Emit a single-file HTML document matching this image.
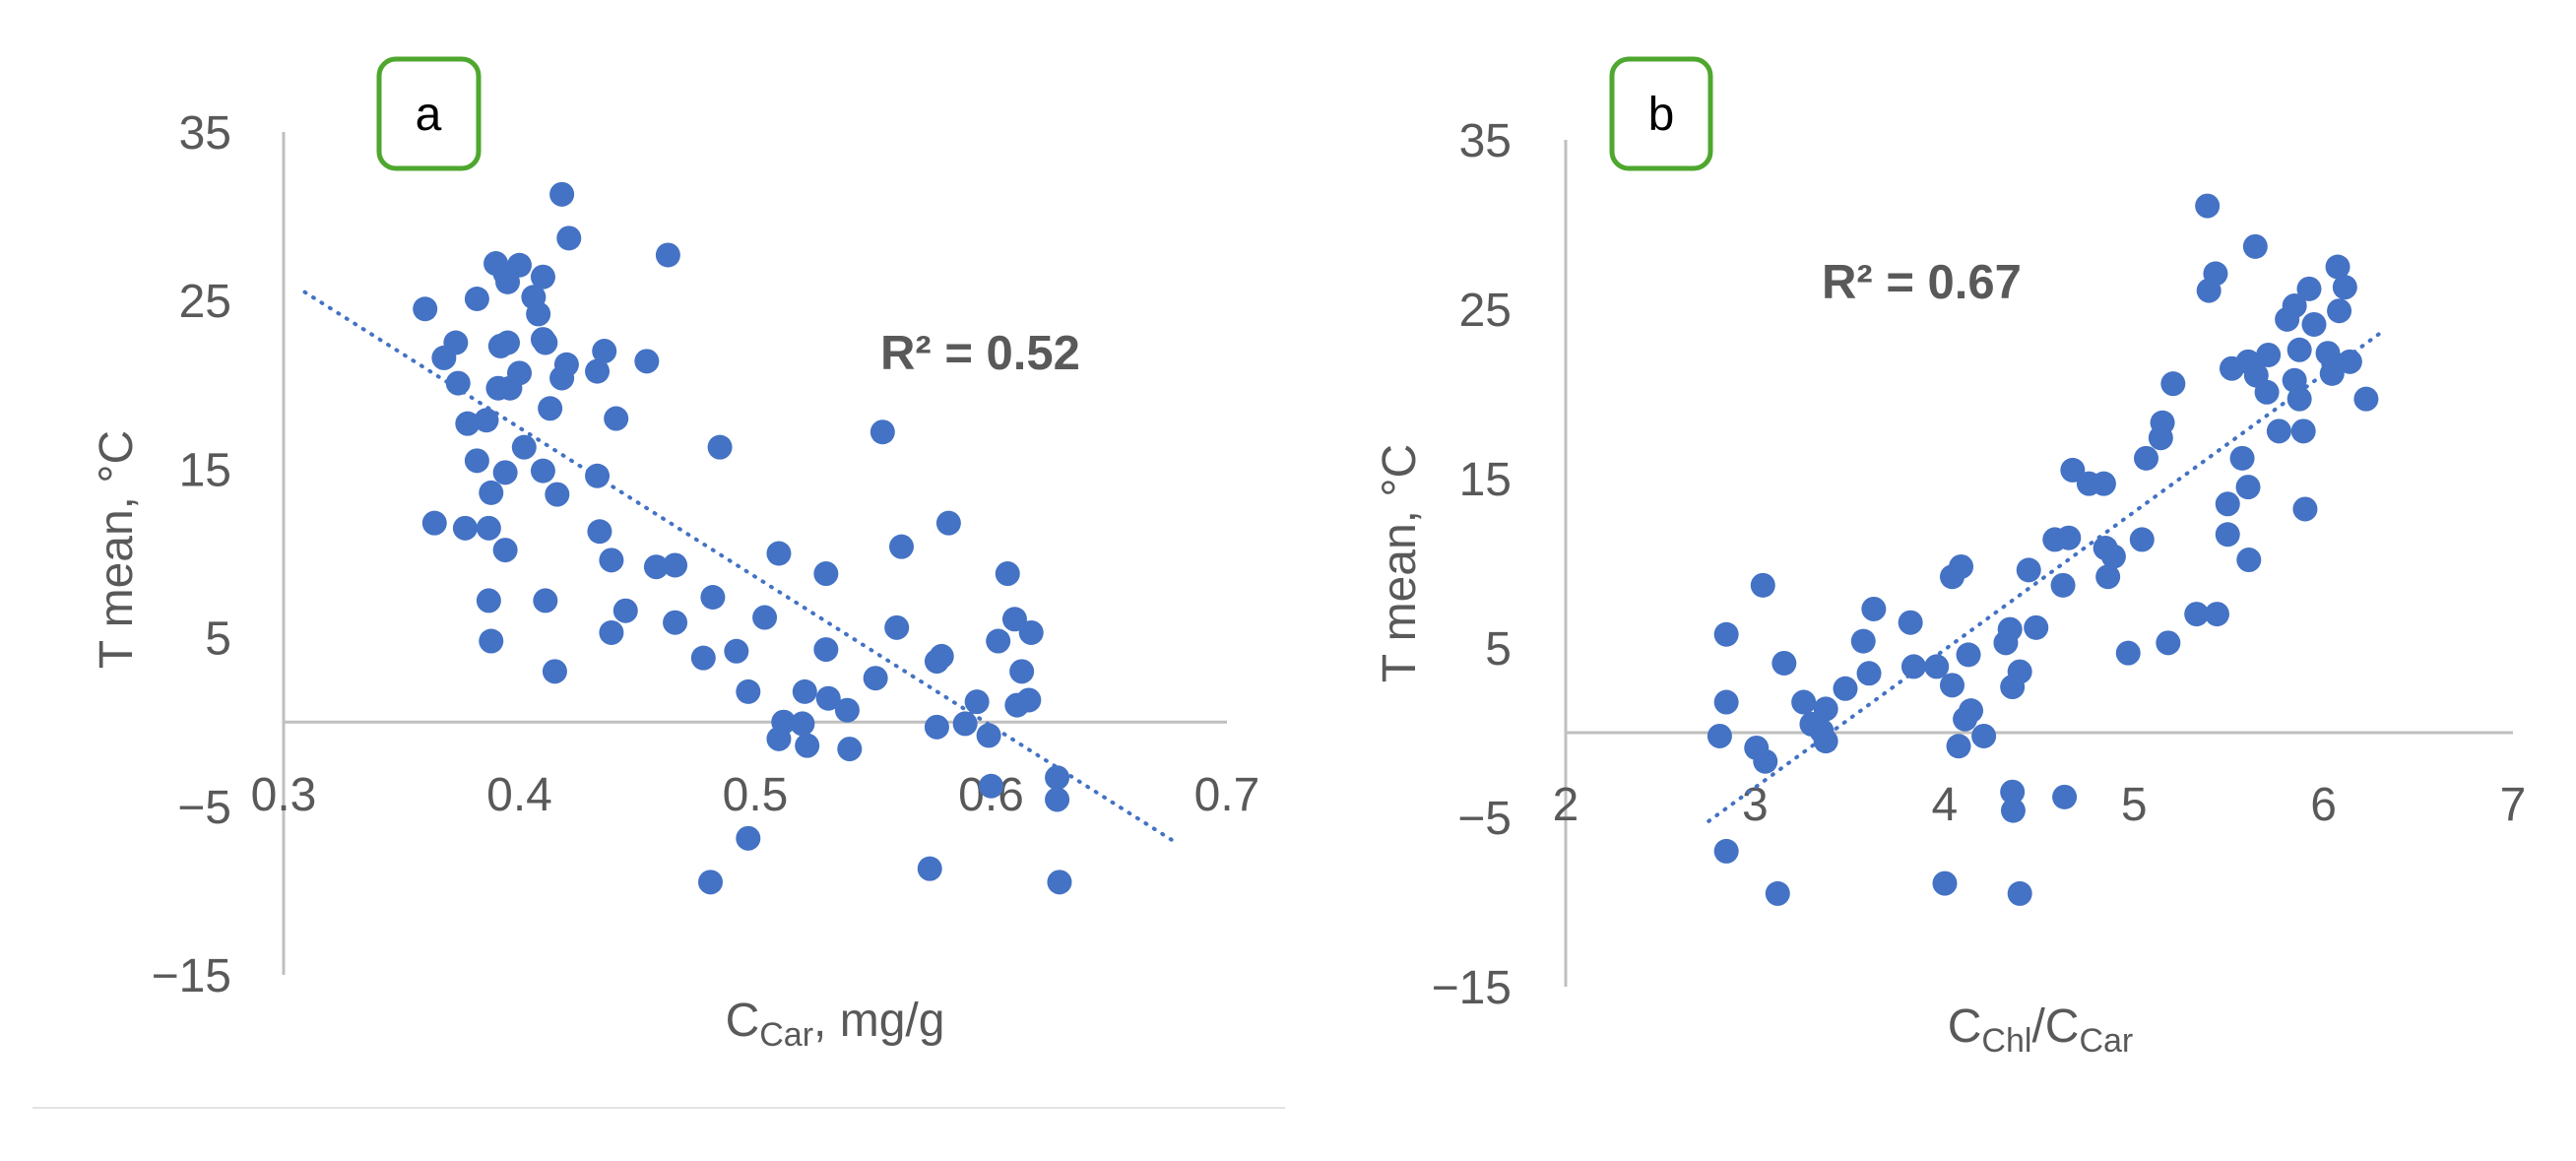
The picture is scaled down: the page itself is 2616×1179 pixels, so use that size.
<!DOCTYPE html>
<html><head><meta charset="utf-8"><style>
html,body{margin:0;padding:0;background:#fff;}
svg{display:block;font-family:"Liberation Sans",sans-serif;}
</style></head><body>
<svg id="fig" width="2616" height="1179" viewBox="0 0 2616 1179" xmlns="http://www.w3.org/2000/svg">
<line x1="33" y1="1125" x2="1305" y2="1125" stroke="#e3e3e3" stroke-width="2"/>
</svg>
<script>
const ns="http://www.w3.org/2000/svg";
const svg=document.getElementById('fig');
// Panel a data
const aX=[0.418,0.421,0.463,0.390,0.400,0.394,0.410,0.395,0.382,0.406,0.360,0.408,0.373,0.392,0.395,0.410,0.411,0.436,0.368,0.420,0.454,0.400,0.433,0.418,0.374,0.391,0.396,0.413,0.441,0.378,0.386,0.554,0.485,0.402,0.382,0.394,0.410,0.433,0.388,0.416,0.364,0.377,0.387,0.582,0.434,0.394,0.562,0.510,0.439,0.458,0.466,0.530,0.607,0.387,0.411,0.482,0.445,0.504,0.610,0.466,0.560,0.439,0.617,0.388,0.603,0.530,0.492,0.579,0.577,0.478,0.415,0.613,0.551,0.497,0.521,0.531,0.539,0.594,0.611,0.616,0.512,0.520,0.577,0.589,0.510,0.522,0.599,0.540,0.628,0.600,0.628,0.497,0.574,0.481,0.629];
const aY=[31.3,28.7,27.7,27.2,27.1,26.6,26.4,26.1,25.1,25.2,24.5,24.2,22.5,22.3,22.5,22.7,22.5,22.0,21.6,21.2,21.4,20.7,20.8,20.4,20.1,19.8,19.8,18.6,18.0,17.7,17.9,17.2,16.3,16.3,15.5,14.8,14.9,14.6,13.6,13.5,11.8,11.5,11.5,11.8,11.3,10.2,10.4,10.0,9.6,9.2,9.3,8.8,8.8,7.2,7.2,7.4,6.6,6.2,6.1,5.9,5.6,5.3,5.3,4.8,4.8,4.3,4.2,3.9,3.6,3.8,3.0,3.0,2.6,1.8,1.8,1.4,0.7,1.2,1.0,1.3,0.0,-0.1,-0.3,-0.1,-1.0,-1.4,-0.8,-1.6,-3.3,-3.8,-4.6,-6.9,-8.7,-9.5,-9.5];
const aXTicks=["0.3","0.4","0.5","0.6","0.7"];
const aYTicks=["35","25","15","5","−5","−15"];
const aTrendRange=[0.309,0.677];
// Panel b data
const bX=[5.387,5.640,5.430,5.395,6.075,6.113,5.924,5.847,6.083,5.808,5.950,5.873,5.709,6.023,5.602,5.516,6.053,6.139,6.045,5.645,5.206,5.847,5.701,5.873,6.225,5.150,5.141,5.765,5.894,5.064,5.571,4.676,4.762,4.840,5.602,5.494,5.903,4.582,4.655,5.042,5.494,4.849,4.892,5.606,4.444,4.087,4.040,4.862,4.625,3.041,5.330,5.438,3.626,3.820,4.483,4.345,2.848,3.571,4.323,5.180,4.969,4.126,3.153,3.837,3.958,3.601,4.397,4.040,4.358,3.476,2.848,3.256,3.373,4.139,4.108,3.299,3.351,2.813,4.207,3.373,3.007,3.054,4.074,4.633,4.358,4.362,2.848,4.001,3.119,4.397];
const bY=[31.1,28.7,27.1,26.1,27.5,26.3,26.2,25.2,24.9,24.4,24.1,22.6,22.3,22.4,21.9,21.5,21.8,21.9,21.2,21.1,20.6,20.8,20.1,19.7,19.7,18.3,17.4,17.8,17.8,16.2,16.2,15.5,14.7,14.7,14.5,13.5,13.2,11.4,11.5,11.4,11.7,10.9,10.4,10.2,9.6,9.8,9.2,9.2,8.7,8.7,7.0,7.0,7.3,6.5,6.2,6.1,5.8,5.4,5.3,5.3,4.7,4.6,4.1,3.9,3.9,3.5,3.6,2.8,2.7,2.6,1.8,1.8,1.4,1.3,0.8,0.5,0.1,-0.2,-0.2,-0.5,-0.9,-1.7,-0.8,-3.8,-3.5,-4.6,-7.0,-8.9,-9.5,-9.5];
const bXTicks=["2","3","4","5","6","7"];
const bYTicks=["35","25","15","5","−5","−15"];
const bTrendRange=[2.755,6.30];

function mk(tag,attrs,parent){const e=document.createElementNS(ns,tag);for(const k in attrs)e.setAttribute(k,attrs[k]);(parent||svg).appendChild(e);return e;}

function panel(cfg){
  const g=mk('g',{});
  
  
  const X=v=>cfg.x0+(v-cfg.xmin)/(cfg.xmax-cfg.xmin)*(cfg.x1-cfg.x0);
  const Y=v=>cfg.yTop+(35-v)/50*(cfg.yBot-cfg.yTop);
  const ya=mk('line',{x1:X(cfg.xmin),y1:cfg.yTop,x2:X(cfg.xmin),y2:cfg.yBot,stroke:'#bfbfbf','stroke-width':3},g);
  
  
  const xa=mk('line',{x1:X(cfg.xmin),y1:Y(0),x2:X(cfg.xmax),y2:Y(0),stroke:'#bfbfbf','stroke-width':3},g);
  
  
  cfg.yTicks.forEach((t,i)=>{
    const v=35-10*i;
    const tx=mk('text',{x:cfg.yLabX,y:Y(v)+17,'text-anchor':'end','font-size':48,fill:'#595959'},g);
    tx.textContent=t;
    
    
  });
  cfg.xTicks.forEach(t=>{
    const v=parseFloat(t);
    const tx=mk('text',{x:X(v),y:cfg.xLabY+17,'text-anchor':'middle','font-size':48,fill:'#595959'},g);
    tx.textContent=t;
    
    
  });
  // regression
  const n=cfg.xs.length;let sx=0,sy=0,sxx=0,sxy=0;
  for(let i=0;i<n;i++){sx+=cfg.xs[i];sy+=cfg.ys[i];sxx+=cfg.xs[i]*cfg.xs[i];sxy+=cfg.xs[i]*cfg.ys[i];}
  const m=(n*sxy-sx*sy)/(n*sxx-sx*sx),b=(sy-m*sx)/n;
  cfg.xs.forEach((x,i)=>{
    const c=mk('circle',{cx:X(x),cy:Y(cfg.ys[i]),r:12.5,fill:'#4472c4'},g);
    
    
  });
  const tl=mk('line',{x1:X(cfg.tr[0]),y1:Y(m*cfg.tr[0]+b),x2:X(cfg.tr[1]),y2:Y(m*cfg.tr[1]+b),stroke:'#4472c4','stroke-width':4,'stroke-dasharray':'1 9','stroke-linecap':'round'},g);
  
  
  return g;
}
panel({name:'chart-a',xs:aX,ys:aY,xmin:0.3,xmax:0.7,x0:288,x1:1246,yTop:134,yBot:990,xTicks:aXTicks,yTicks:aYTicks,yLabX:235,xLabY:806,tr:aTrendRange});
panel({name:'chart-b',xs:bX,ys:bY,xmin:2,xmax:7,x0:1590,x1:2552,yTop:142,yBot:1002,xTicks:bXTicks,yTicks:bYTicks,yLabX:1535,xLabY:816,tr:bTrendRange});
</script>
<svg width="2616" height="1179" style="position:absolute;left:0;top:0" xmlns="http://www.w3.org/2000/svg" font-family="Liberation Sans, sans-serif">
<rect x="385" y="60" width="101" height="111" rx="17" fill="none" stroke="#4ea72e" stroke-width="5"/>
<text x="435" y="132" text-anchor="middle" font-size="48" fill="#000">a</text>
<rect x="1637" y="60" width="100" height="111" rx="17" fill="none" stroke="#4ea72e" stroke-width="5"/>
<text x="1687" y="132" text-anchor="middle" font-size="48" fill="#000">b</text>
<text x="894" y="375" font-size="49" font-weight="bold" fill="#595959">R² = 0.52</text>
<text x="1850" y="303" font-size="49" font-weight="bold" fill="#595959">R² = 0.67</text>
<text transform="translate(134,558) rotate(-90)" text-anchor="middle" font-size="48" fill="#595959">T mean, °C</text>
<text transform="translate(1437,572) rotate(-90)" text-anchor="middle" font-size="48" fill="#595959">T mean, °C</text>
<text x="848" y="1052" text-anchor="middle" font-size="48" fill="#595959">C<tspan font-size="34" dy="10">Car</tspan><tspan dy="-10">, mg/g</tspan></text>
<text x="2072" y="1058" text-anchor="middle" font-size="48" fill="#595959">C<tspan font-size="34" dy="10">Chl</tspan><tspan dy="-10">/C</tspan><tspan font-size="34" dy="10">Car</tspan></text>
</svg>
</body></html>
